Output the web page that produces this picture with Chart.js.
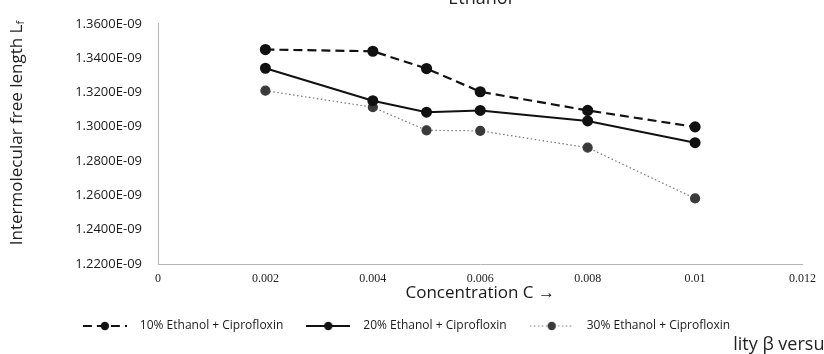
<!DOCTYPE html>
<html>
<head>
<meta charset="utf-8">
<script src="https://cdn.jsdelivr.net/npm/chart.js@4"></script>
<style>
  html, body { margin: 0; padding: 0; background: #ffffff; overflow: hidden; }
  #wrap { position: relative; width: 824px; height: 354px; }
  #cap { position: absolute; left: 734px; top: 331px; width: 90px; height: 23px; overflow: hidden; }
  #cap span { position: absolute; right: -9px; top: 0; white-space: nowrap; font: 18px "Open Sans", sans-serif; color: #222; }
</style>
</head>
<body>
<div id="wrap">
  <canvas id="c" width="824" height="354"></canvas>
  <div id="cap"><span>compressibility β versus</span></div>
</div>
<script>
// ---- data ----
const concentrations = [0.002, 0.004, 0.005, 0.006, 0.008, 0.01];
const seriesNames = ['10% Ethanol + Ciprofloxin', '20% Ethanol + Ciprofloxin', '30% Ethanol + Ciprofloxin'];
const ethanol10 = [1.3450e-9, 1.3440e-9, 1.3339e-9, 1.3204e-9, 1.3095e-9, 1.2999e-9];
const ethanol20 = [1.3341e-9, 1.3152e-9, 1.3085e-9, 1.3095e-9, 1.3034e-9, 1.2907e-9];
const ethanol30 = [1.3210e-9, 1.3114e-9, 1.2979e-9, 1.2976e-9, 1.2878e-9, 1.2582e-9];
const yTickValues = [1.22e-9, 1.24e-9, 1.26e-9, 1.28e-9, 1.30e-9, 1.32e-9, 1.34e-9, 1.36e-9];
const xTickValues = [0, 0.002, 0.004, 0.006, 0.008, 0.010, 0.012];
const chartTitle = 'Ethanol';
const xTitle = 'Concentration C \u2192';
const yTitle = 'Intermolecular free length L';
const yTitleSub = 'f';

const styles = [
  { color: '#111111', point: '#111111', width: 2.2, dash: [9, 5] },
  { color: '#111111', point: '#111111', width: 2.0, dash: [] },
  { color: '#777777', point: '#3a3a3a', width: 1.2, dash: [1.5, 2.5] }
];
const seriesValues = [ethanol10, ethanol20, ethanol30];

function legendIcon(st) {
  const cv = document.createElement('canvas');
  cv.width = 44; cv.height = 12;
  const g = cv.getContext('2d');
  g.strokeStyle = st.color; g.lineWidth = st.width; g.setLineDash(st.dash);
  g.beginPath(); g.moveTo(0, 6); g.lineTo(44, 6); g.stroke();
  g.setLineDash([]);
  g.fillStyle = st.point;
  g.beginPath(); g.arc(22, 6, 4.2, 0, Math.PI * 2); g.fill();
  return cv;
}
const icons = styles.map(legendIcon);

const datasets = seriesValues.map((vals, i) => ({
  label: seriesNames[i],
  data: concentrations.map((c, j) => ({ x: c, y: vals[j] })),
  borderColor: styles[i].color,
  borderWidth: styles[i].width,
  borderDash: styles[i].dash,
  pointBackgroundColor: styles[i].point,
  pointBorderColor: styles[i].point,
  pointRadius: 4.5,
  pointStyle: 'circle',
  tension: 0,
  fill: false
}));

const extraText = {
  id: 'extraText',
  afterDraw(chart) {
    const ctx = chart.ctx, ca = chart.chartArea;
    ctx.save();
    ctx.fillStyle = '#222';
    ctx.font = '18px "Open Sans", sans-serif';
    ctx.textAlign = 'center';
    ctx.textBaseline = 'alphabetic';
    ctx.fillText(chartTitle, (ca.left + ca.right) / 2, 4);
    // y axis title with subscript
    ctx.translate(17, 133);
    ctx.rotate(-Math.PI / 2);
    ctx.font = '17px "Open Sans", sans-serif';
    const w1 = ctx.measureText(yTitle).width;
    ctx.font = '11px "Open Sans", sans-serif';
    const w2 = ctx.measureText(yTitleSub).width;
    const total = w1 + w2;
    ctx.textAlign = 'left';
    ctx.textBaseline = 'middle';
    ctx.font = '17px "Open Sans", sans-serif';
    ctx.fillText(yTitle, -total / 2, 0);
    ctx.font = '11px "Open Sans", sans-serif';
    ctx.fillText(yTitleSub, -total / 2 + w1, 4);
    ctx.restore();
  }
};

new Chart(document.getElementById('c'), {
  type: 'line',
  data: { datasets },
  plugins: [extraText],
  options: {
    responsive: false,
    animation: false,
    devicePixelRatio: 1,
    layout: { padding: { top: 12, right: 18, bottom: 12, left: 0 } },
    plugins: {
      title: { display: false },
      tooltip: { enabled: false },
      legend: {
        position: 'bottom',
        labels: {
          usePointStyle: true,
          pointStyleWidth: 58,
          padding: 16,
          color: '#1a1a1a',
          font: { family: '"Open Sans", sans-serif', size: 12 },
          generateLabels(chart) {
            return chart.data.datasets.map((ds, i) => ({
              text: ds.label,
              pointStyle: icons[i],
              datasetIndex: i,
              fontColor: '#1a1a1a',
              lineWidth: 0,
              strokeStyle: 'rgba(0,0,0,0)',
              fillStyle: 'rgba(0,0,0,0)',
              hidden: false
            }));
          }
        }
      }
    },
    scales: {
      x: {
        type: 'linear',
        min: 0,
        max: 0.012,
        afterBuildTicks(scale) { scale.ticks = xTickValues.map(v => ({ value: v })); },
        afterFit(scale) { scale.height = 40; },
        grid: { display: false, drawTicks: false },
        border: { display: true, color: '#b5b5b5', width: 1 },
        ticks: {
          padding: 8,
          color: '#222',
          font: { family: '"Liberation Serif", serif', size: 12 },
          maxRotation: 0,
          callback(v) { return v === 0 ? '0' : Number(v).toFixed(3).replace(/0+$/, ''); }
        },
        title: {
          display: true,
          text: xTitle,
          color: '#1a1a1a',
          font: { family: '"Open Sans", sans-serif', size: 17 },
          padding: { top: 0, bottom: 1 }
        }
      },
      y: {
        type: 'linear',
        min: 1.22e-9,
        max: 1.36e-9,
        afterBuildTicks(scale) { scale.ticks = yTickValues.map(v => ({ value: v })); },
        afterFit(scale) { scale.width = 158; },
        grid: { display: false, drawTicks: false },
        border: { display: true, color: '#b5b5b5', width: 1 },
        ticks: {
          padding: 16,
          color: '#1a1a1a',
          font: { family: '"Open Sans", sans-serif', size: 13 },
          callback(v) { return (v * 1e9).toFixed(4) + 'E-09'; }
        }
      }
    }
  }
});
</script>
</body>
</html>
